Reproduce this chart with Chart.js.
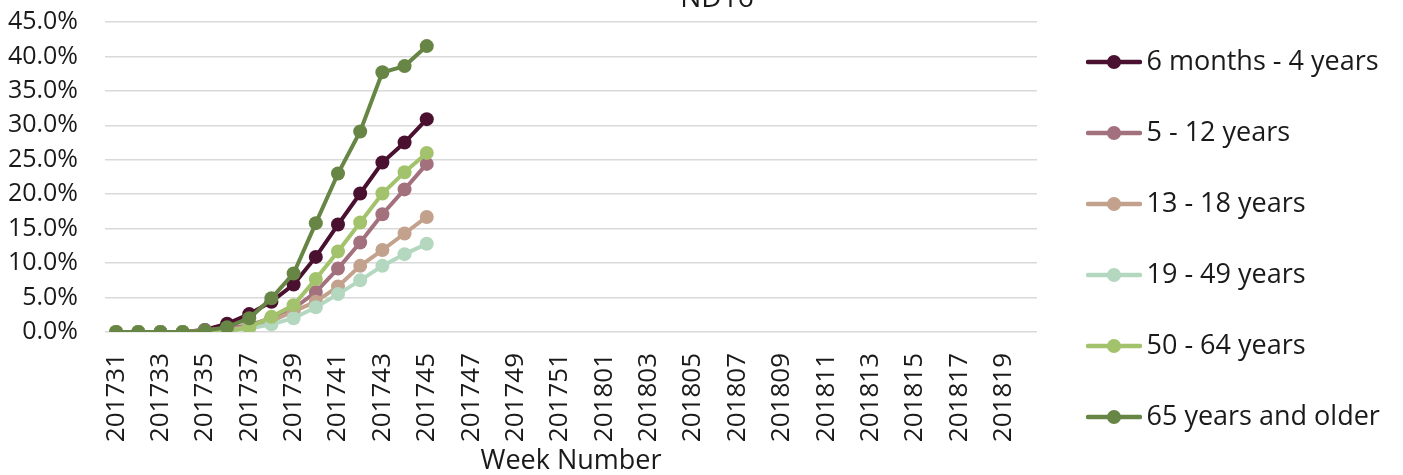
<!DOCTYPE html>
<html>
<head>
<meta charset="utf-8">
<script src="https://cdn.jsdelivr.net/npm/chart.js@4/dist/chart.umd.min.js"></script>
<style>
  html, body { margin: 0; padding: 0; background: #fff; }
  #wrap { width: 1403px; height: 475px; position: relative; }
</style>
</head>
<body>
<div id="wrap"><canvas id="chart"></canvas></div>
<script>
// Week numbers on the x axis (2017 wk 31 through 2018 wk 20)
const weeks = [
  '201731', '201732', '201733', '201734', '201735', '201736', '201737', '201738',
  '201739', '201740', '201741', '201742', '201743', '201744', '201745', '201746',
  '201747', '201748', '201749', '201750', '201751', '201752', '201801', '201802',
  '201803', '201804', '201805', '201806', '201807', '201808', '201809', '201810',
  '201811', '201812', '201813', '201814', '201815', '201816', '201817', '201818',
  '201819', '201820'
];

// Cumulative % by age group, weeks 201731..201745 (rest not reported yet)
const sixMonthsTo4 = [0, 0, 0, 0, 0.3, 1.2, 2.6, 4.4, 6.9, 10.9, 15.6, 20.1, 24.6, 27.5, 30.9];
const age5to12     = [0, 0, 0, 0, 0.3, 0.5, 1.0, 2.0, 3.4, 5.8, 9.2, 13.0, 17.1, 20.7, 24.4];
const age13to18    = [0, 0, 0, 0, 0.1, 0.3, 0.8, 1.6, 3.0, 4.4, 6.6, 9.6, 11.9, 14.3, 16.7];
const age19to49    = [0, 0, 0, 0, 0, 0.2, 0.5, 1.1, 2.0, 3.6, 5.5, 7.5, 9.6, 11.3, 12.8];
const age50to64    = [0, 0, 0, 0, 0, 0.1, 0.7, 2.2, 3.9, 7.7, 11.7, 15.9, 20.1, 23.2, 26.0];
const age65plus    = [0, 0, 0, 0, 0.2, 0.7, 2.0, 4.9, 8.5, 15.8, 23.0, 29.1, 37.7, 38.6, 41.5];

const seriesNames = ['6 months - 4 years', '5 - 12 years', '13 - 18 years', '19 - 49 years', '50 - 64 years', '65 years and older'];
const seriesData = [sixMonthsTo4, age5to12, age13to18, age19to49, age50to64, age65plus];
const seriesColors = ['#4a1030', '#a3717e', '#c3a28d', '#b4d7bf', '#a2c36c', '#678544'];

const yTicks = [0, 5, 10, 15, 20, 25, 30, 35, 40, 45];
const chartTitle = 'ND16';

const FONT = "'Open Sans', 'DejaVu Sans', sans-serif";
const TEXT_COLOR = '#1a1a1a';
const GRID_COLOR = '#d9d9d9';

// little line-with-dot swatch for the legend
function makeSwatch(color) {
  const c = document.createElement('canvas');
  c.width = 56; c.height = 16;
  const ctx = c.getContext('2d');
  ctx.strokeStyle = color;
  ctx.lineWidth = 4.5;
  ctx.lineCap = 'round';
  ctx.beginPath();
  ctx.moveTo(2, 8); ctx.lineTo(54, 8);
  ctx.stroke();
  ctx.fillStyle = color;
  ctx.beginPath();
  ctx.arc(28, 8, 7, 0, Math.PI * 2);
  ctx.fill();
  return c;
}

// the title sits half cut off at the top edge in the original
const clippedTitle = {
  id: 'clippedTitle',
  afterDraw(chart) {
    const ctx = chart.ctx;
    ctx.save();
    ctx.font = "28px " + FONT;
    ctx.fillStyle = TEXT_COLOR;
    ctx.textAlign = 'center';
    ctx.textBaseline = 'alphabetic';
    ctx.fillText(chartTitle, 717, 7);
    ctx.restore();
  }
};

// keep the legend box a fixed width so the plot ends where it should
const legendWidth = {
  id: 'legendWidth',
  afterInit(chart) {
    const legend = chart.legend;
    if (!legend) return;
    const origFit = legend.fit;
    legend.fit = function () {
      origFit.call(this);
      this.width = 352;
    };
  }
};

const datasets = seriesNames.map((name, i) => ({
  label: name,
  data: seriesData[i],
  borderColor: seriesColors[i],
  backgroundColor: seriesColors[i],
  borderWidth: 4,
  pointRadius: 7,
  pointHoverRadius: 7,
  pointBorderWidth: 0,
  tension: 0,
  order: seriesNames.length - 1 - i // last series drawn on top, like the original
}));

new Chart(document.getElementById('chart'), {
  type: 'line',
  data: { labels: weeks, datasets: datasets },
  plugins: [clippedTitle, legendWidth],
  options: {
    responsive: true,
    maintainAspectRatio: false,
    animation: false,
    layout: { padding: { left: 8, right: 0, top: 4, bottom: 0 } },
    scales: {
      x: {
        offset: true,
        grid: { display: false, drawTicks: false },
        border: { display: false },
        afterFit: axis => { axis.height = 143; },
        ticks: {
          autoSkip: false,
          minRotation: 90,
          maxRotation: 90,
          padding: 21,
          color: TEXT_COLOR,
          font: { family: FONT, size: 26 },
          callback: function (val, index) {
            return index % 2 === 0 ? this.getLabelForValue(val) : null;
          }
        },
        title: {
          display: true,
          text: 'Week Number',
          color: TEXT_COLOR,
          font: { family: FONT, size: 27, lineHeight: 1 },
          padding: { top: 0, bottom: 0 }
        }
      },
      y: {
        min: 0,
        max: 45,
        afterBuildTicks: axis => { axis.ticks = yTicks.map(v => ({ value: v })); },
        // fixed width; tick padding would otherwise also push the plot top down
        afterFit: axis => { axis.width = 97; axis.paddingTop = 22; },
        grid: { color: GRID_COLOR, lineWidth: 1.5, drawTicks: false },
        border: { display: false },
        ticks: {
          autoSkip: false,
          padding: 27,
          color: TEXT_COLOR,
          font: { family: FONT, size: 25 },
          callback: v => v.toFixed(1) + '%'
        }
      },
      // empty right axis, only there to leave a gap before the legend
      gap: {
        position: 'right',
        display: true,
        grid: { display: false, drawTicks: false },
        border: { display: false },
        ticks: { display: false },
        afterFit: axis => { axis.width = 14; }
      }
    },
    plugins: {
      title: { display: false },
      legend: {
        position: 'right',
        labels: {
          usePointStyle: true,
          pointStyleWidth: 38,
          padding: 44,
          color: TEXT_COLOR,
          font: { family: FONT, size: 27 },
          generateLabels: chart => chart.data.datasets.map((ds, i) => ({
            text: ds.label,
            pointStyle: makeSwatch(ds.borderColor),
            fillStyle: ds.borderColor,
            strokeStyle: ds.borderColor,
            fontColor: TEXT_COLOR,
            lineWidth: 0,
            hidden: !chart.isDatasetVisible(i),
            datasetIndex: i
          }))
        }
      },
      tooltip: { enabled: false }
    }
  }
});
</script>
</body>
</html>
